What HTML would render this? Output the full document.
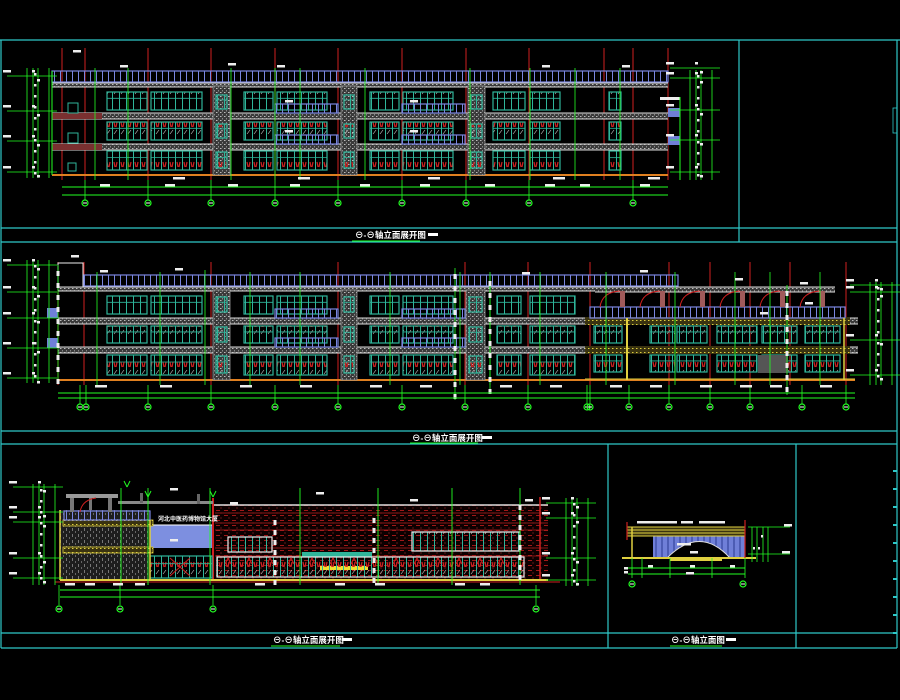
<!DOCTYPE html>
<html><head><meta charset="utf-8"><style>
html,body{margin:0;padding:0;background:#000;width:900px;height:700px;overflow:hidden}
svg{display:block}
text{font-family:"Liberation Sans","Noto Sans CJK SC",sans-serif;fill:#fff;font-weight:bold}
</style></head><body>
<svg id="s" width="900" height="700" viewBox="0 0 900 700" xmlns="http://www.w3.org/2000/svg">
<defs>
<pattern id="rail" width="6" height="20" patternUnits="userSpaceOnUse"><rect x="0" y="0" width="1" height="20" fill="#7a86e0"/></pattern>
<pattern id="spk" width="4" height="4" patternUnits="userSpaceOnUse"><rect width="4" height="4" fill="#3a3a3a"/><rect x="0" y="0" width="1.5" height="1" fill="#bbb"/><rect x="2" y="2" width="1" height="1.5" fill="#888"/></pattern>
<pattern id="dk" width="6" height="6" patternUnits="userSpaceOnUse"><rect width="6" height="6" fill="#1e1e1e"/><rect x="0" y="0" width="1" height="3" fill="#777"/><rect x="3" y="3" width="1" height="2" fill="#666"/></pattern>
<pattern id="brick" width="8" height="5" patternUnits="userSpaceOnUse"><rect width="8" height="5" fill="#0c0000"/><rect x="0" y="0" width="4" height="1" fill="#a01818"/><rect x="4" y="2.5" width="2" height="1" fill="#601818"/></pattern>
<pattern id="win" width="7" height="40" patternUnits="userSpaceOnUse"><rect x="0" y="0" width="1" height="40" fill="#2fb59a"/><path d="M2 2 L3 7 M5 2 L4 7" stroke="#d02020" stroke-width="1.2"/><path d="M2 14 L5 10" stroke="#ccc" stroke-width="0.6"/></pattern>
<pattern id="ylw" width="4" height="4" patternUnits="userSpaceOnUse"><rect width="4" height="4" fill="#3a3310"/><rect width="1.5" height="1" fill="#e0d040"/></pattern>
</defs>
<g id="frame" stroke="#2fc8c8" stroke-width="1.2" fill="none">
<line x1="0" y1="40" x2="900" y2="40"/>
<line x1="1" y1="40" x2="1" y2="648"/>
<line x1="897" y1="40" x2="897" y2="648"/>
<line x1="739" y1="40" x2="739" y2="242"/>
<line x1="1" y1="228" x2="897" y2="228"/>
<line x1="1" y1="242" x2="897" y2="242"/>
<line x1="1" y1="431" x2="897" y2="431"/>
<line x1="1" y1="444" x2="897" y2="444"/>
<line x1="608" y1="444" x2="608" y2="648"/>
<line x1="796" y1="444" x2="796" y2="648"/>
<line x1="1" y1="633" x2="897" y2="633"/>
<line x1="1" y1="648" x2="897" y2="648"/>
</g>
<g id="g"></g>
<text x="355" y="238" font-size="8.5">⊖-⊖轴立面展开图</text><rect x="428" y="233" width="10" height="3" fill="#fff"/>
<line x1="352" y1="241" x2="420" y2="241" stroke="#2f2" stroke-width="1"/>
<text x="412" y="441" font-size="8.5">⊖-⊖轴立面展开图</text><rect x="482" y="436" width="10" height="3" fill="#fff"/>
<line x1="410" y1="443" x2="478" y2="443" stroke="#2f2" stroke-width="1"/>
<text x="273" y="643" font-size="8.5">⊖-⊖轴立面展开图</text><rect x="342" y="638" width="10" height="3" fill="#fff"/>
<line x1="271" y1="646" x2="340" y2="646" stroke="#2f2" stroke-width="1"/>
<text x="671" y="643" font-size="8.5">⊖-⊖轴立面图</text><rect x="726" y="638" width="10" height="3" fill="#fff"/>
<line x1="670" y1="646" x2="722" y2="646" stroke="#2f2" stroke-width="1"/>
<text x="158" y="521" font-size="6">河北中医药博物馆大厦</text>
</svg>
<script>
var g=document.getElementById('g'),NS='http://www.w3.org/2000/svg';
function E(t,a){var e=document.createElementNS(NS,t);for(var k in a)e.setAttribute(k,a[k]);g.appendChild(e);return e}
function R(x,y,w,h,st,f,sw){return E('rect',{x:x,y:y,width:w,height:h,stroke:st||'none',fill:f||'none','stroke-width':sw||1})}
function L(x1,y1,x2,y2,st,sw){return E('line',{x1:x1,y1:y1,x2:x2,y2:y2,stroke:st,'stroke-width':sw||1})}
function C(x,y){E('circle',{cx:x,cy:y,r:3,stroke:'#2f2',fill:'none','stroke-width':1.2});L(x-2,y,x+2,y,'#fff',1)}
function W(x,y,w,h){R(x,y,w,h,'#2fb59a','url(#win)',1.2);L(x,y+h*0.35,x+w,y+h*0.35,'#2fb59a',0.8)}
function lab(x,y,w){R(x,y,w||8,2.5,null,'#eee')}
function rail(x,y,w,h){R(x,y,w,h,'#7a86e0','url(#rail)',1.2)}
function band(x,y,w,h){R(x,y,w,h,null,'url(#spk)');L(x,y,x+w,y,'#ddd',1);L(x,y+h,x+w,y+h,'#ddd',1)}
function leftDims(x0,ys,top,bot){
 [x0,x0+6,x0+11,x0+22].forEach(function(x){L(x,top,x,bot,'#2f2',0.8)});
 ys.forEach(function(y){L(x0-20,y,x0+30,y,'#2f2',0.8);lab(x0-24,y-6,8);lab(x0+5,y-6,3);lab(x0+10,y+3,3)});
 for(var y=top+5;y<bot;y+=11){lab(x0+7,y,2.5)}
}
/* ===== Panel 1 ===== */
(function(){
 var gl=175;
 [62,85,148,211,275,338,402,466,529,604,633,668].forEach(function(x){L(x,48,x,180,'#d02020',1)});
 rail(52,71,616,11);
 band(52,83,616,4);band(52,113,616,6);band(52,144,616,6);
 R(52,113,50,6,null,'#7a3030');R(52,144,50,6,null,'#7a3030');
 L(52,gl,668,gl,'#e08020',2);
 L(52,71,52,gl,'#2f2',1);
 [[92,110],[122,140],[151,170]].forEach(function(f){
  var y=f[0],h=f[1]-f[0];
  W(107,y,40,h);W(151,y,51,h);W(244,y,29,h);W(277,y,50,h);W(370,y,29,h);W(403,y,50,h);
  W(493,y,32,h);W(530,y,30,h);W(609,y,12,h);
 });
 [[213,230],[341,357],[468,485]].forEach(function(c){R(c[0],86,c[1]-c[0],89,'#999','url(#spk)',0.8);W(c[0]+3,95,c[1]-c[0]-6,14);W(c[0]+3,124,c[1]-c[0]-6,14);W(c[0]+3,152,c[1]-c[0]-6,16)});
 rail(275,104,63,9);rail(275,135,63,9);rail(402,104,63,9);rail(402,135,63,9);
 R(68,103,10,10,'#2fb59a',null,1);R(68,133,10,10,'#2fb59a',null,1);R(68,163,8,8,'#2fb59a',null,1);
 R(668,108,12,9,null,'#6f7fd8');R(668,136,12,9,null,'#6f7fd8');R(660,97,20,3,null,'#eee');
 L(680,97,680,180,'#2f2',1);
 [95,128,231,275,300,365,470,530,575,620].forEach(function(x){L(x,68,x,180,'#2f2',0.8)});
 L(62,187,668,187,'#2f2',1);L(62,195,668,195,'#2f2',1);
 [85,148,211,275,338,402,466,529,633].forEach(function(x){L(x,180,x,200,'#2f2',0.8);C(x,203)});
 [100,165,228,290,360,420,485,545,580,640].forEach(function(x,i){lab(x,184,10);if(i%2)lab(x+8,177,12)});
 lab(73,50,8);lab(120,65,8);lab(228,63,8);lab(277,65,8);lab(542,65,8);lab(622,65,8);
 lab(285,100,8);lab(285,130,8);lab(410,100,8);lab(410,130,8);
 leftDims(27,[76,111,141,172],68,178);
 leftDims(690,[68,78,110,140,172],70,180);
})();
/* ===== Panel 2 ===== */
(function(){
 var gl=380;
 [58,84,211,338,465,528,590,669,710,750,790,846].forEach(function(x){L(x,262,x,385,'#d02020',1)});
 R(58,263,25,27,'#eee',null,1);
 rail(84,275,594,11);
 band(58,287,537,4);band(595,287,240,5);
 band(58,318,800,6);band(58,347,800,6);
 R(585,317,265,8,null,'url(#ylw)');R(585,346,265,8,null,'url(#ylw)');
 rail(590,307,255,11);
 L(58,gl,855,gl,'#e08020',2);L(585,gl-1,855,gl-1,'#e0d040',1);
 R(47,308,11,10,null,'#6f7fd8');R(47,338,11,10,null,'#6f7fd8');
 L(627,318,627,380,'#e0d040',2);L(844,318,844,380,'#e0d040',1.5);
 [[296,314],[326,343],[355,375]].forEach(function(f){
  var y=f[0],h=f[1]-f[0];
  W(107,y,40,h);W(151,y,51,h);W(244,y,29,h);W(277,y,50,h);W(370,y,29,h);W(403,y,50,h);
  W(497,y,24,h);W(530,y,45,h);
 });
 [[326,343],[355,372]].forEach(function(f){var y=f[0],h=f[1]-f[0];
  W(594,y,28,h);W(650,y,25,h);W(677,y,30,h);W(717,y,40,h);W(762,y,35,h);W(805,y,35,h)});
 [[213,230],[341,357],[466,485]].forEach(function(c){R(c[0],290,c[1]-c[0],90,'#999','url(#spk)',0.8);W(c[0]+3,297,c[1]-c[0]-6,15);W(c[0]+3,327,c[1]-c[0]-6,15);W(c[0]+3,356,c[1]-c[0]-6,17)});
 rail(275,309,63,9);rail(275,338,63,9);rail(402,309,63,9);rail(402,338,63,9);
 [600,640,680,720,760,800].forEach(function(x){R(x+20,291,5,16,null,'#a05a5a');E('path',{d:'M'+(x)+' 307 Q'+(x+2)+' 292 '+(x+20)+' 291',stroke:'#d02020',fill:'none'})});
 R(758,355,30,18,null,'#555');
 L(205,270,205,385,'#2f2',0.8);
 [97,160,250,300,390,460,490,540,606,675,735,770,820].forEach(function(x){L(x,272,x,385,'#2f2',0.8)});
 [[58,265,380],[455,268,400],[490,275,390],[787,285,395]].forEach(function(a){L(a[0],a[1],a[0],a[2],'#2f2',0.8);for(var y=a[1]+6;y<a[2];y+=12)R(a[0]-1.5,y,3,5,null,'#eee')});
 L(58,393,855,393,'#2f2',1);L(58,398,855,398,'#2f2',1);
 [80,86,148,211,275,338,402,465,528,587,590,629,669,710,750,802,846].forEach(function(x){L(x,385,x,404,'#2f2',0.8);C(x,407)});
 [95,160,240,300,370,420,500,550,610,650,700,740,770,820].forEach(function(x){lab(x,385,12)});
 lab(71,255,8);lab(100,270,8);lab(175,268,8);lab(522,272,8);lab(640,270,8);lab(735,278,8);lab(800,282,8);lab(805,302,8);lab(760,312,8);
 leftDims(27,[265,292,318,348,378],260,383);
 leftDims(870,[285,292,340,375],282,385);
})();
/* ===== Panel 3 ===== */
(function(){
 var gl=580;
 R(213,505,335,75,null,'url(#brick)');L(213,505,548,505,'#ddd',1.5);
 [513,523,530,548,556].forEach(function(y){L(215,y,548,y,'#b02020',0.8)});
 L(213,498,213,gl,'#d02020',2);L(540,497,540,gl,'#d02020',1.5);
 R(228,537,44,15,'#eee','url(#win)',1.2);
 R(412,532,108,19,'#eee','url(#win)',1.2);
 R(302,552,70,5,null,'#2fb59a');
 R(320,566,48,4,null,'#f0e030');
 (function(){var x=217,y=557,w=307,h=20;R(x,y,w,h,'#eee','url(#win)',1.2);for(var i=0;i<14;i++)E('path',{d:'M'+(x+8+i*21)+' '+(y+7)+' l3 -6 l3 6',stroke:'#d02020',fill:'none'});})();
 R(150,525,62,23,null,'#7d8fe0');L(150,525,212,525,'#fff',1);
 W(150,556,62,22);E('path',{d:'M170 558 L190 576 M190 558 L170 576',stroke:'#d02020'});
 R(60,510,90,70,null,'url(#dk)');
 R(63,520,90,6,'#e0d040','url(#ylw)',0.8);R(63,547,90,6,'#e0d040','url(#ylw)',0.8);
 rail(64,511,86,9);
 L(60,510,60,580,'#e0d040',1.5);L(150,520,150,580,'#e0d040',1.5);
 R(66,494,52,4,null,'#999');R(70,498,4,14,null,'#777');R(108,498,4,14,null,'#777');R(89,498,3,12,null,'#777');
 E('path',{d:'M80 512 Q82 500 96 498',stroke:'#d02020',fill:'none'});
 R(118,501,95,3,null,'#888');R(140,493,3,10,null,'#666');R(197,494,3,10,null,'#666');
 L(60,gl,548,gl,'#e0d040',2);L(55,gl+2,560,gl+2,'#d02020',1);
 [121,148,210,300,378,452,520].forEach(function(x){L(x,488,x,585,'#2f2',0.9)});
 [[275,520,585],[374,518,585],[520,505,585]].forEach(function(a){for(var y=a[1];y<a[2];y+=10)R(a[0]-1.5,y,3,5,null,'#eee')});
 L(60,590,540,590,'#2f2',1);L(60,597,540,597,'#2f2',1);
 [59,120,213,536].forEach(function(x){L(x,585,x,605,'#2f2',0.8);C(x,609)});
 [65,85,113,135,255,335,375,455,480].forEach(function(x){lab(x,583,10)});
 lab(170,488,8);lab(230,502,8);lab(316,492,8);lab(410,499,8);lab(525,499,8);lab(170,539,8);
 leftDims(33,[487,512,522,558,578],484,585);
 leftDims(566,[503,518,558,580],498,586);
 [[127,487],[148,497],[213,497]].forEach(function(p){L(p[0]-3,p[1]-6,p[0],p[1],'#2f2',1);L(p[0]+3,p[1]-6,p[0],p[1],'#2f2',1)});
})();
/* ===== Panel 4 ===== */
(function(){
 R(653,536,92,22,null,'#6f7fd8');
 for(var x=656;x<745;x+=6)L(x,536,x,558,'#2a3a90',1);
 E('path',{d:'M667 558 Q700 525 730 558 Z',fill:'#000',stroke:'#ddd'});
 R(627,527,118,9,null,'#3a3310');
 [527,530,533,536].forEach(function(y){L(627,y,745,y,'#e0d040',1)});
 L(622,558,756,558,'#e0d040',2);R(670,558,52,3,null,'#e0d040');
 L(632,527,632,558,'#e0d040',1.5);L(745,520,745,558,'#d02020',1.2);L(627,522,627,540,'#d02020',1.2);
 lab(637,521,40);lab(681,521,12);lab(699,521,26);lab(677,543,14);lab(690,551,8);
 [632,642,670,712,745].forEach(function(x){L(x,558,x,578,'#2f2',0.8)});
 L(628,568,745,568,'#2f2',1);L(628,574,745,574,'#2f2',1);
 lab(648,565,5);lab(690,565,5);lab(730,565,5);lab(686,572,8);lab(624,567,4);lab(624,571,4);
 C(632,584);C(743,584);
 [752,757,763,768].forEach(function(x){L(x,527,x,562,'#2f2',0.8)});
 L(748,527,790,527,'#2f2',0.8);L(748,554,790,554,'#2f2',0.8);
 lab(784,524,8);lab(782,551,8);lab(753,547,2);lab(758,547,2);lab(761,535,2);
 for(var y=470;y<640;y+=18){R(893,y,4,2,null,'#2fc8c8')}
 R(893,108,4,25,'#2fc8c8',null,0.8);
})();
</script>
</body></html>
